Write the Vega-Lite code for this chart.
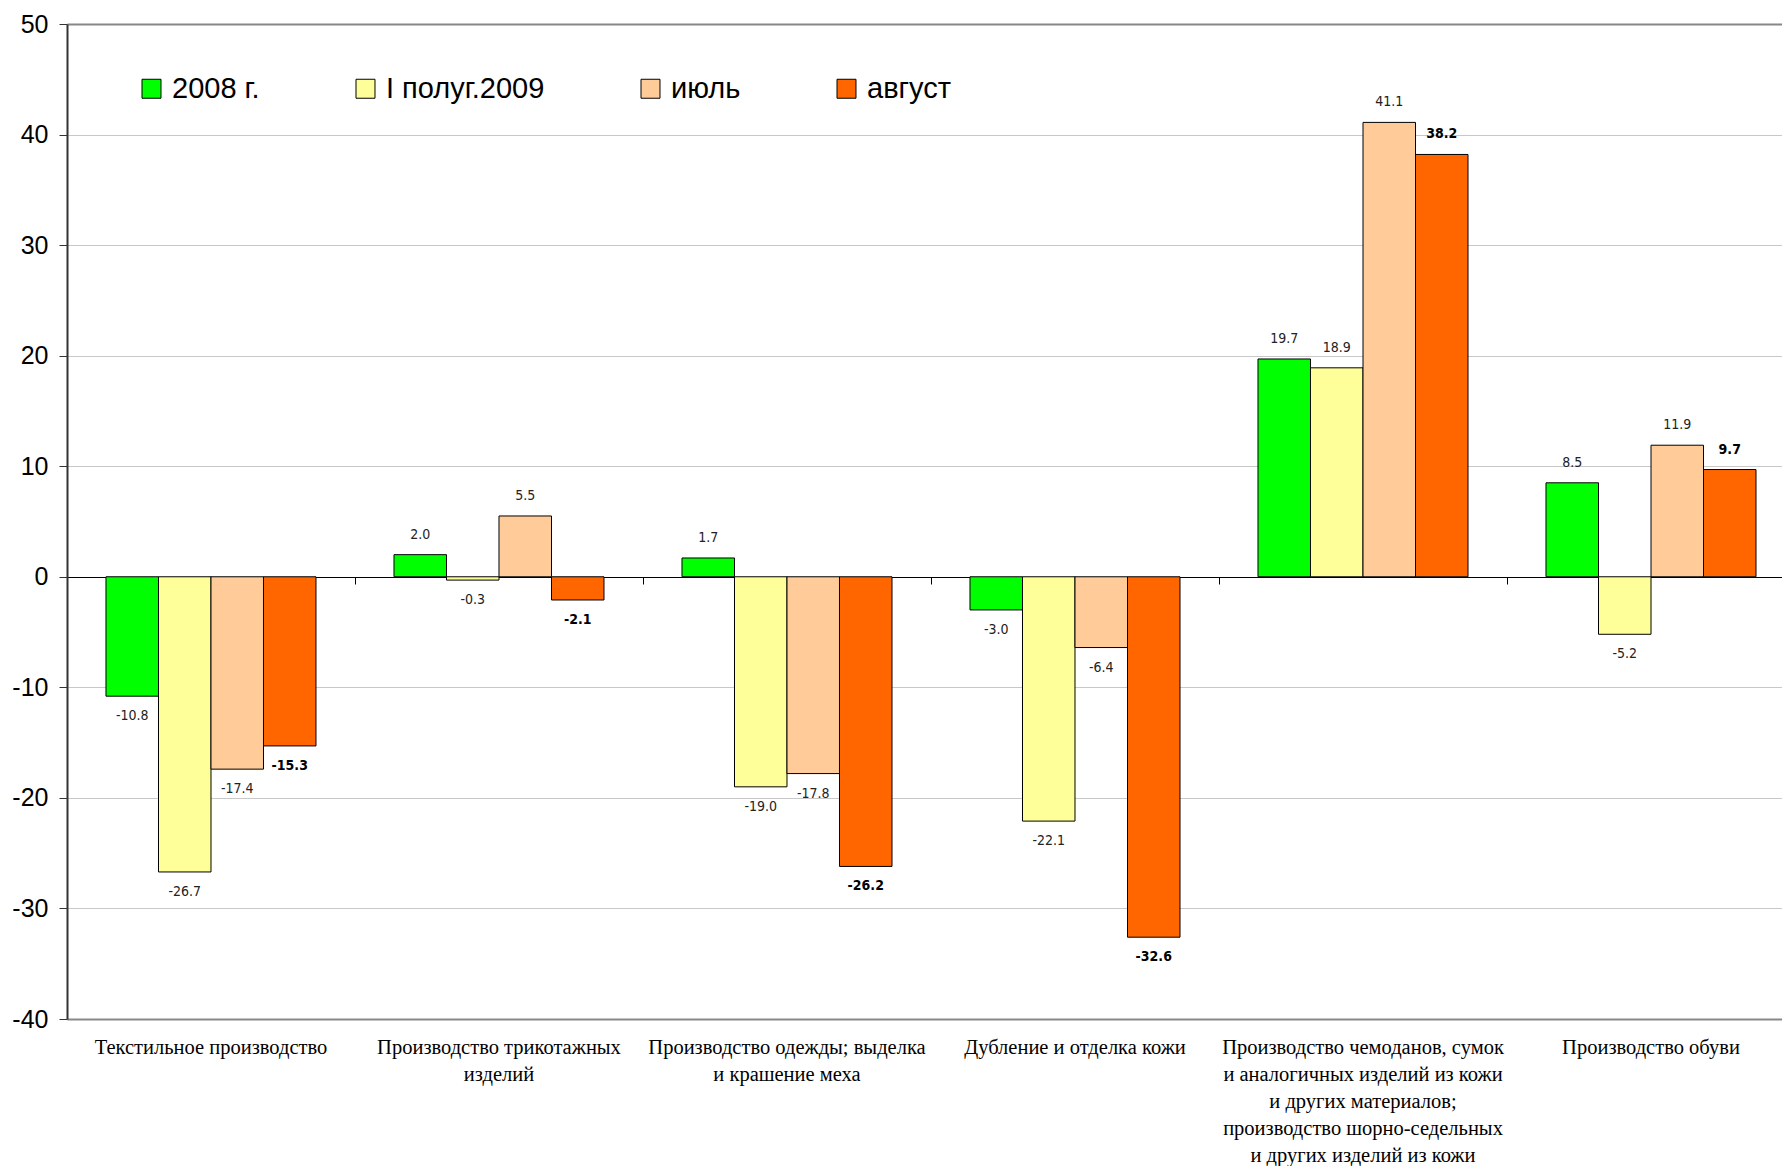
{
  "$schema": "https://vega.github.io/schema/vega-lite/v6.json",
  "width": 1715,
  "height": 995,
  "autosize": {"type": "none"},
  "padding": {"left": 67, "top": 24, "right": 0, "bottom": 147},
  "background": "white",
  "config": {
    "view": {"stroke": null},
    "legend": {"labelFont": "Liberation Sans", "labelFontSize": 29, "labelColor": "black"}
  },
  "data": {
    "values": [
      {"cat": "Текстильное производство", "series": "2008 г.", "value": -10.8},
      {"cat": "Текстильное производство", "series": "I полуг.2009", "value": -26.7},
      {"cat": "Текстильное производство", "series": "июль", "value": -17.4},
      {"cat": "Текстильное производство", "series": "август", "value": -15.3},
      {"cat": "Производство трикотажных|изделий", "series": "2008 г.", "value": 2.0},
      {"cat": "Производство трикотажных|изделий", "series": "I полуг.2009", "value": -0.3},
      {"cat": "Производство трикотажных|изделий", "series": "июль", "value": 5.5},
      {"cat": "Производство трикотажных|изделий", "series": "август", "value": -2.1},
      {"cat": "Производство одежды; выделка|и крашение меха", "series": "2008 г.", "value": 1.7},
      {"cat": "Производство одежды; выделка|и крашение меха", "series": "I полуг.2009", "value": -19.0},
      {"cat": "Производство одежды; выделка|и крашение меха", "series": "июль", "value": -17.8},
      {"cat": "Производство одежды; выделка|и крашение меха", "series": "август", "value": -26.2},
      {"cat": "Дубление и отделка кожи", "series": "2008 г.", "value": -3.0},
      {"cat": "Дубление и отделка кожи", "series": "I полуг.2009", "value": -22.1},
      {"cat": "Дубление и отделка кожи", "series": "июль", "value": -6.4},
      {"cat": "Дубление и отделка кожи", "series": "август", "value": -32.6},
      {"cat": "Производство чемоданов, сумок|и аналогичных изделий из кожи|и других материалов;|производство шорно-седельных|и других изделий из кожи", "series": "2008 г.", "value": 19.7},
      {"cat": "Производство чемоданов, сумок|и аналогичных изделий из кожи|и других материалов;|производство шорно-седельных|и других изделий из кожи", "series": "I полуг.2009", "value": 18.9},
      {"cat": "Производство чемоданов, сумок|и аналогичных изделий из кожи|и других материалов;|производство шорно-седельных|и других изделий из кожи", "series": "июль", "value": 41.1},
      {"cat": "Производство чемоданов, сумок|и аналогичных изделий из кожи|и других материалов;|производство шорно-седельных|и других изделий из кожи", "series": "август", "value": 38.2},
      {"cat": "Производство обуви", "series": "2008 г.", "value": 8.5},
      {"cat": "Производство обуви", "series": "I полуг.2009", "value": -5.2},
      {"cat": "Производство обуви", "series": "июль", "value": 11.9},
      {"cat": "Производство обуви", "series": "август", "value": 9.7}
    ]
  },
  "transform": [
    {"calculate": "replace(format(datum.value, '.1f'), '\u2212', '-')", "as": "label"}
  ],
  "encoding": {
    "x": {
      "field": "cat",
      "type": "nominal",
      "sort": null,
      "scale": {"paddingInner": 0.2708, "paddingOuter": 0.1128, "align": 0.6}
    },
    "xOffset": {
      "field": "series",
      "type": "nominal",
      "sort": ["2008 г.", "I полуг.2009", "июль", "август"],
      "scale": {"paddingInner": 0, "paddingOuter": 0}
    },
    "y": {
      "field": "value",
      "type": "quantitative",
      "scale": {"domain": [-40, 50], "nice": false, "zero": false},
      "axis": {
        "title": null,
        "values": [-40, -30, -20, -10, 0, 10, 20, 30, 40, 50],
        "labelExpr": "'' + datum.value",
        "labelFont": "Liberation Sans",
        "labelFontSize": 25,
        "labelColor": "black",
        "labelPadding": 11,
        "tickSize": 8,
        "tickColor": "#333333",
        "domainColor": "#333333",
        "domainWidth": 2,
        "grid": true,
        "gridColor": {"condition": {"test": "datum.value === -40 || datum.value === 50", "value": "#888888"}, "value": "#c8c8c8"},
        "gridWidth": {"condition": {"test": "datum.value === -40 || datum.value === 50", "value": 2}, "value": 1}
      }
    }
  },
  "resolve": {"axis": {"x": "independent"}},
  "layer": [
    {
      "mark": {"type": "bar", "stroke": "black", "strokeWidth": 1},
      "encoding": {
        "x": {
          "field": "cat",
          "type": "nominal",
          "sort": null,
          "scale": {"paddingInner": 0.2708, "paddingOuter": 0.1128, "align": 0.6},
          "axis": {
            "orient": "bottom",
            "title": null,
            "labelAngle": 0,
            "domain": false,
            "ticks": false,
            "labelFont": "Liberation Serif",
            "labelFontSize": 20.5,
            "labelColor": "black",
            "labelLineHeight": 27,
            "labelPadding": 18,
            "labelLimit": 0,
            "labelExpr": "split(datum.label, '|')"
          }
        },
        "color": {
          "field": "series",
          "type": "nominal",
          "sort": ["2008 г.", "I полуг.2009", "июль", "август"],
          "scale": {
            "domain": ["2008 г.", "I полуг.2009", "июль", "август"],
            "range": ["#00ff00", "#ffff99", "#ffcc99", "#ff6600"]
          },
          "legend": {
            "title": null,
            "orient": "none",
            "direction": "horizontal",
            "legendX": 70,
            "legendY": 50,
            "padding": 0,
            "symbolType": "square",
            "symbolSize": 360,
            "symbolStrokeColor": "black",
            "symbolStrokeWidth": 1,
            "symbolOpacity": 1,
            "labelOffset": 6,
            "columnPadding": 91
          }
        }
      }
    },
    {
      "transform": [{"filter": "datum.value >= 0 && datum.series !== 'август'"}],
      "mark": {"type": "text", "baseline": "middle", "dy": -20, "font": "DejaVu Sans Condensed", "fontSize": 14, "color": "#222222"},
      "encoding": {
        "x": {
          "field": "cat",
          "type": "nominal",
          "sort": null,
          "scale": {"paddingInner": 0.2708, "paddingOuter": 0.1128, "align": 0.6},
          "axis": {
            "orient": "bottom",
            "offset": -442,
            "title": null,
            "labels": false,
            "grid": false,
            "domain": true,
            "domainColor": "black",
            "domainWidth": 1,
            "ticks": true,
            "tickOffset": 144,
            "tickColor": "black",
            "tickSize": 7
          }
        },
        "text": {"field": "label", "type": "nominal"}
      }
    },
    {
      "transform": [{"filter": "datum.value < 0 && datum.series !== 'август'"}],
      "mark": {"type": "text", "baseline": "middle", "dy": 20, "font": "DejaVu Sans Condensed", "fontSize": 14, "color": "#222222"},
      "encoding": {
        "x": {"field": "cat", "type": "nominal", "sort": null, "axis": null},
        "text": {"field": "label", "type": "nominal"}
      }
    },
    {
      "transform": [{"filter": "datum.value >= 0 && datum.series === 'август'"}],
      "mark": {"type": "text", "baseline": "middle", "dy": -20, "font": "DejaVu Sans Condensed", "fontSize": 14, "fontWeight": "bold", "color": "black"},
      "encoding": {
        "x": {"field": "cat", "type": "nominal", "sort": null, "axis": null},
        "text": {"field": "label", "type": "nominal"}
      }
    },
    {
      "transform": [{"filter": "datum.value < 0 && datum.series === 'август'"}],
      "mark": {"type": "text", "baseline": "middle", "dy": 20, "font": "DejaVu Sans Condensed", "fontSize": 14, "fontWeight": "bold", "color": "black"},
      "encoding": {
        "x": {"field": "cat", "type": "nominal", "sort": null, "axis": null},
        "text": {"field": "label", "type": "nominal"}
      }
    }
  ]
}
